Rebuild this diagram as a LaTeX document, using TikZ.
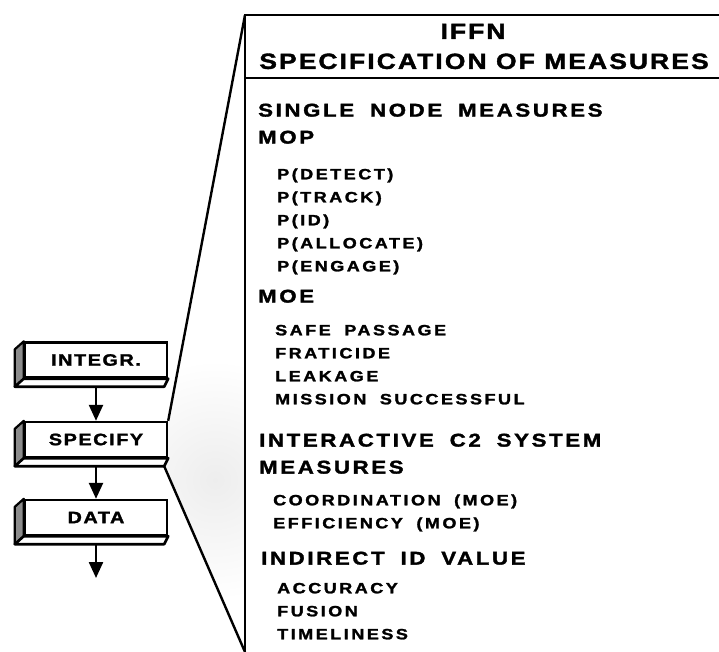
\documentclass[tikz,border=0pt]{standalone}
\usepackage{graphicx}
\usepackage{fontspec}
\usetikzlibrary{arrows.meta}
\newfontfamily\hdrfont{Liberation Sans Bold}[FakeBold=1.6,LetterSpace=8,WordSpace=1.6]
\newfontfamily\hedfont{Liberation Sans Bold}[FakeBold=1.6,LetterSpace=12,WordSpace=1.8]
\newfontfamily\itmfont{Liberation Sans Bold}[FakeBold=1.6,LetterSpace=14,WordSpace=1.8]
\newfontfamily\boxfont{Liberation Sans Bold}[FakeBold=1.6,LetterSpace=8]
\newcommand\widetext[1]{\scalebox{1.2}[1]{#1}}
\begin{document}
\begin{tikzpicture}[x=1pt,y=-1pt,
  hdr/.style={inner sep=0pt,font=\hdrfont\fontsize{22}{22}\selectfont,text height=15.8pt,text depth=0pt},
  hed/.style={anchor=west,inner sep=0pt,font=\hedfont\fontsize{18.5}{18.5}\selectfont,text height=13.2pt,text depth=0pt},
  itm/.style={anchor=west,inner sep=0pt,font=\itmfont\fontsize{15}{15}\selectfont,text height=10.7pt,text depth=0pt},
  stepbox/.style={draw,line width=2.4pt,fill=white,minimum width=142pt,minimum height=35pt,inner sep=0pt,
     font=\boxfont\fontsize{16.5}{16.5}\selectfont},
  sideface/.style={draw,line width=2.2pt,fill=black!45,line join=round},
  botface/.style={draw,line width=2.6pt,fill=white,line join=round},
  panel/.style={line width=2.4pt},
  arr/.style={line width=2.4pt,-{Triangle[width=14pt,length=16pt]}}]
\useasboundingbox (0,0) rectangle (719,652);

% panel coordinates
\coordinate (ptop) at (245,15);
\coordinate (pbot) at (245,652);
\coordinate (pright) at (719,15);
\coordinate (dl) at (245,78);
\coordinate (dr) at (719,78);

% boxes
\node[stepbox] (integr) at (96,360) {\widetext{INTEGR.}};
\node[stepbox] (specify) at (96,439.5) {\widetext{SPECIFY}};
\node[stepbox] (data) at (96,517.5) {\widetext{DATA}};
\coordinate (dataend) at (96,578);

% stippled shading in funnel
\begin{scope}
  \clip (ptop) -- (specify.north east) -- (specify.south east) -- ([shift={(-4,8)}]specify.south east) -- (pbot) -- cycle;
  \shade[inner color=gray!14,outer color=white] (215,480) circle (120);
\end{scope}

\foreach \n in {integr,specify,data}{
  \draw[sideface] (\n.north west) -- ++(-9,8) -- ([shift={(-9,8)}]\n.south west) -- (\n.south west) -- cycle;
  \draw[botface] (\n.south west) -- ([shift={(-9,8)}]\n.south west) -- ([shift={(-4,8)}]\n.south east) -- (\n.south east) -- cycle;
}

% arrows
\draw[arr] ([yshift=-8pt]integr.south) -- (specify.north);
\draw[arr] ([yshift=-8pt]specify.south) -- (data.north);
\draw[arr] ([yshift=-8pt]data.south) -- (dataend);

% funnel and panel
\draw[panel] (ptop) -- (specify.north east);
\draw[panel] ([shift={(-4,8)}]specify.south east) -- (pbot);
\draw[panel] (pbot) -- (ptop) -- (pright);
\draw[panel] (dl) -- (dr);

% header
\node[hdr] (t1) at (473,31) {\widetext{IFFN}};
\node[hdr] (t2) at (484,61) {\widetext{SPECIFICATION OF MEASURES}};

% list
\node[hed] (h1) at (258,110) {\widetext{SINGLE NODE MEASURES}};
\node[hed] (h2) at (258,137) {\widetext{MOP}};
\node[itm] (i1) at (277,174) {\widetext{P(DETECT)}};
\node[itm] (i2) at (277,197) {\widetext{P(TRACK)}};
\node[itm] (i3) at (277,220) {\widetext{P(ID)}};
\node[itm] (i4) at (277,243) {\widetext{P(ALLOCATE)}};
\node[itm] (i5) at (277,266) {\widetext{P(ENGAGE)}};
\node[hed] (h3) at (258,296) {\widetext{MOE}};
\node[itm] (i6) at (275,330) {\widetext{SAFE PASSAGE}};
\node[itm] (i7) at (275,353) {\widetext{FRATICIDE}};
\node[itm] (i8) at (275,376) {\widetext{LEAKAGE}};
\node[itm] (i9) at (275,399) {\widetext{MISSION SUCCESSFUL}};
\node[hed] (h4) at (259,440) {\widetext{INTERACTIVE C2 SYSTEM}};
\node[hed] (h5) at (259,467) {\widetext{MEASURES}};
\node[itm] (i10) at (273,500) {\widetext{COORDINATION (MOE)}};
\node[itm] (i11) at (273,523) {\widetext{EFFICIENCY (MOE)}};
\node[hed] (h6) at (261,558) {\widetext{INDIRECT ID VALUE}};
\node[itm] (i12) at (277,588) {\widetext{ACCURACY}};
\node[itm] (i13) at (277,611) {\widetext{FUSION}};
\node[itm] (i14) at (277,634) {\widetext{TIMELINESS}};
\end{tikzpicture}
\end{document}
